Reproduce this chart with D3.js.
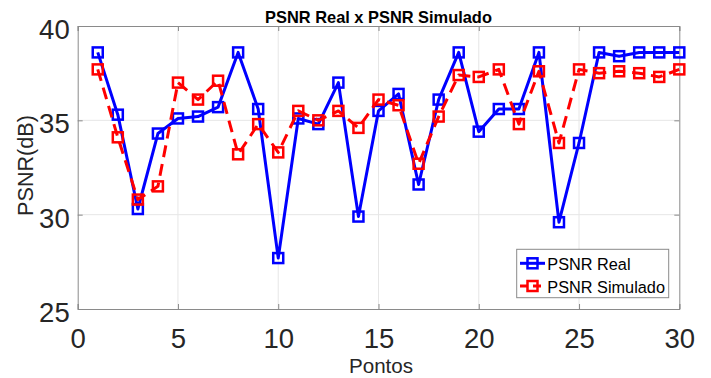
<!DOCTYPE html>
<html>
<head>
<meta charset="utf-8">
<script src="https://cdn.jsdelivr.net/npm/d3@7"></script>
<style>
  html, body { margin: 0; padding: 0; background: #fff; }
  svg { display: block; font-family: "Liberation Sans", Arial, sans-serif; }
</style>
</head>
<body>
<svg id="chart" width="711" height="378"></svg>
<script>
const pontos = d3.range(1, 31);
const psnrReal = [38.6, 35.3, 30.3, 34.3, 35.1, 35.2, 35.7, 38.6, 35.6, 27.7,
                  35.1, 34.8, 37.0, 29.9, 35.5, 36.4, 31.6, 36.1, 38.6, 34.4,
                  35.6, 35.6, 38.6, 29.6, 33.8, 38.6, 38.4, 38.6, 38.6, 38.6];
const psnrSimulado = [37.7, 34.1, 30.8, 31.5, 37.0, 36.1, 37.1, 33.2, 34.8, 33.3,
                      35.5, 35.0, 35.5, 34.6, 36.1, 35.8, 32.7, 35.2, 37.4, 37.3,
                      37.7, 34.8, 37.6, 33.8, 37.7, 37.5, 37.6, 37.5, 37.3, 37.7];
const xTicks = [0, 5, 10, 15, 20, 25, 30];
const yTicks = [25, 30, 35, 40];

const series = [
  { name: 'PSNR Real', values: psnrReal, color: '#0000ff', dash: null },
  { name: 'PSNR Simulado', values: psnrSimulado, color: '#ff0000', dash: '12,7' }
];

const svg = d3.select('#chart');
const plotLeft = 77.7, plotRight = 679.3, plotTop = 26, plotBottom = 309;

const x = d3.scaleLinear().domain([0, 30]).range([plotLeft, plotRight]);
const y = d3.scaleLinear().domain([25, 40]).range([plotBottom, plotTop]);

const axisColor = '#8a8a8a';
const textColor = '#262626';

// grid
svg.append('g').selectAll('line')
  .data(xTicks.slice(1, -1))
  .join('line')
  .attr('x1', d => x(d)).attr('x2', d => x(d))
  .attr('y1', plotTop).attr('y2', plotBottom)
  .attr('stroke', '#e6e6e6').attr('stroke-width', 1);
svg.append('g').selectAll('line')
  .data(yTicks.slice(1, -1))
  .join('line')
  .attr('x1', plotLeft).attr('x2', plotRight)
  .attr('y1', d => y(d)).attr('y2', d => y(d))
  .attr('stroke', '#e6e6e6').attr('stroke-width', 1);

// axes (ticks inward, box)
const gx = svg.append('g').attr('transform', `translate(0,${plotBottom})`)
  .call(d3.axisBottom(x).tickValues(xTicks).tickSize(-5).tickPadding(19));
const gy = svg.append('g').attr('transform', `translate(${plotLeft},0)`)
  .call(d3.axisLeft(y).tickValues(yTicks).tickSize(-5).tickPadding(8));
const gxTop = svg.append('g').attr('transform', `translate(0,${plotTop})`)
  .call(d3.axisTop(x).tickValues(xTicks).tickSize(-5).tickFormat(''));
const gyRight = svg.append('g').attr('transform', `translate(${plotRight},0)`)
  .call(d3.axisRight(y).tickValues(yTicks).tickSize(-5).tickFormat(''));

[gx, gy, gxTop, gyRight].forEach(g => {
  g.select('.domain').attr('stroke', axisColor).attr('stroke-width', 1);
  g.selectAll('.tick line').attr('stroke', axisColor);
  g.selectAll('.tick text')
    .attr('fill', textColor)
    .style('font-size', '27.5px')
    .style('font-family', '"Liberation Sans", Arial, sans-serif');
});
gx.selectAll('.tick text').attr('dy', '0.71em');
gy.selectAll('.tick text').attr('dy', '0.45em');

// lines and markers
const line = d3.line().x((d, i) => x(pontos[i])).y(d => y(d));
series.forEach(s => {
  const g = svg.append('g');
  g.append('path')
    .datum(s.values)
    .attr('d', line)
    .attr('fill', 'none')
    .attr('stroke', s.color)
    .attr('stroke-width', 3)
    .attr('stroke-linejoin', 'round')
    .attr('stroke-dasharray', s.dash);
  g.selectAll('rect')
    .data(s.values)
    .join('rect')
    .attr('x', (d, i) => x(pontos[i]) - 5)
    .attr('y', d => y(d) - 5)
    .attr('width', 10).attr('height', 10)
    .attr('fill', 'none')
    .attr('stroke', s.color)
    .attr('stroke-width', 2.5);
});

// title
svg.append('text')
  .attr('x', (plotLeft + plotRight) / 2).attr('y', 23)
  .attr('text-anchor', 'middle')
  .attr('fill', '#000')
  .style('font-size', '16.4px').style('font-weight', 'bold')
  .text('PSNR Real x PSNR Simulado');

// axis labels
svg.append('text')
  .attr('x', 381).attr('y', 373)
  .attr('text-anchor', 'middle')
  .attr('fill', textColor)
  .style('font-size', '20.6px')
  .text('Pontos');
svg.append('text')
  .attr('transform', `translate(33,${165.5}) rotate(-90)`)
  .attr('text-anchor', 'middle')
  .attr('fill', textColor)
  .style('font-size', '21.6px')
  .text('PSNR(dB)');

// legend
const legend = svg.append('g');
legend.append('rect')
  .attr('x', 516.7).attr('y', 249.3)
  .attr('width', 152).attr('height', 48.4)
  .attr('fill', '#fff')
  .attr('stroke', axisColor).attr('stroke-width', 1);
series.forEach((s, i) => {
  const cy = 263.3 + i * 22.7;
  legend.append('line')
    .attr('x1', 520).attr('x2', 545)
    .attr('y1', cy).attr('y2', cy)
    .attr('stroke', s.color).attr('stroke-width', 3)
    .attr('stroke-dasharray', s.dash ? '8,5' : null);
  legend.append('rect')
    .attr('x', 532.5 - 5).attr('y', cy - 5)
    .attr('width', 10).attr('height', 10)
    .attr('fill', 'none')
    .attr('stroke', s.color).attr('stroke-width', 2.5);
  legend.append('text')
    .attr('x', 547.3).attr('y', cy + 6.5)
    .attr('fill', '#000')
    .style('font-size', '16.3px')
    .text(s.name);
});
</script>
</body>
</html>
